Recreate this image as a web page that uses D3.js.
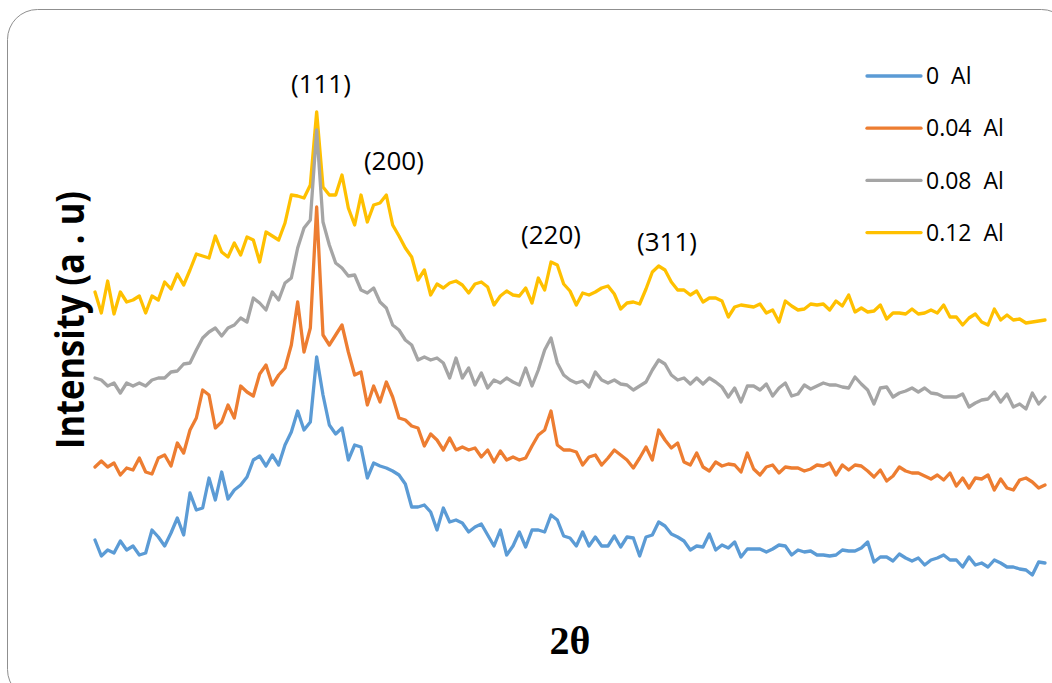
<!DOCTYPE html>
<html>
<head>
<meta charset="utf-8">
<script src="https://cdn.jsdelivr.net/npm/d3@7"></script>
<style>
  html, body { margin: 0; padding: 0; background: #ffffff; }
  svg { display: block; }
</style>
</head>
<body>
<svg id="chart" width="1052" height="683"></svg>
<script>
// ---- scan parameters (2θ, degrees) ----
const scanStart = 20;
const scanStep = 0.4;

// ---- series names ----
const seriesNames = ["0  Al", "0.04  Al", "0.08  Al", "0.12  Al"];

// ---- intensity values (a.u.), one per scan step ----
const al000 = [60,44,50,47,59,50,54,45,47,70,
63,54,67,82,65,107,90,92,122,100,
128,101,110,115,123,140,144,134,145,135,
155,168,189,170,178,243,205,175,166,172,
140,155,153,122,137,134,132,129,125,116,
93,93,95,88,70,92,78,80,77,68,
73,76,65,54,70,45,54,68,53,70,
70,68,85,80,64,62,54,68,54,63,
54,54,64,53,63,62,44,63,65,78,
74,66,63,59,50,54,53,66,50,55,
52,58,43,51,51,51,48,51,55,54,
45,50,48,49,45,45,44,45,50,49,
49,52,58,38,43,43,39,46,42,39,
42,35,40,42,45,40,40,33,43,35,
37,33,40,37,33,33,31,30,25,38,
37];

const al004 = [133,139,133,137,125,132,130,142,128,126,
142,145,134,157,147,170,182,210,205,172,
178,195,182,214,208,204,226,235,215,225,
232,255,298,248,272,393,265,255,265,275,
248,225,228,195,214,198,218,203,182,180,
174,172,154,166,160,150,162,150,153,150,
152,143,150,138,149,140,143,140,142,154,
165,170,189,155,150,150,148,135,143,145,
135,142,150,145,140,132,142,153,140,170,
160,152,157,138,135,147,133,129,138,134,
136,135,128,147,131,125,133,135,127,133,
132,132,129,131,135,134,137,125,135,130,
135,134,129,123,130,119,124,133,129,127,
127,124,121,125,120,127,114,122,112,122,
121,125,110,121,112,110,120,122,118,112,
115];

const al008 = [222,220,214,217,207,217,214,217,214,220,
222,222,228,229,236,237,250,262,268,272,
264,272,275,282,278,302,297,290,308,300,
317,322,352,372,380,470,378,355,337,332,
324,325,310,307,312,298,292,275,270,260,
255,240,243,240,242,237,222,242,222,232,
215,227,212,220,217,222,218,215,232,214,
230,250,262,237,225,220,217,219,213,228,
220,217,220,216,215,210,214,218,230,240,
236,225,220,222,216,222,216,222,218,213,
203,212,198,214,214,210,216,204,212,217,
204,206,215,211,214,217,215,215,213,212,
223,216,210,196,212,213,203,207,209,212,
208,212,207,206,203,203,203,206,193,197,
200,201,208,198,206,193,196,191,207,196,
203];

const al012 = [308,287,319,286,308,298,300,304,287,304,
300,318,311,326,315,330,346,344,342,364,
348,343,357,345,363,360,338,368,364,360,
377,405,404,402,415,488,413,405,405,425,
392,375,405,378,395,397,405,375,364,352,
343,320,330,305,316,312,317,319,315,307,
316,318,313,295,304,309,305,304,312,297,
322,310,338,335,316,309,295,307,305,308,
312,314,306,291,297,298,296,311,328,334,
330,318,310,310,305,309,298,302,302,299,
283,293,295,294,293,296,287,290,278,299,
294,290,291,296,295,296,290,299,294,305,
288,292,288,289,295,281,287,287,286,291,
286,287,290,287,295,283,283,275,282,286,
278,275,291,280,285,280,281,277,278,279,
280];

// ---- peak annotations ----
const peakNames = ["(111)", "(200)", "(220)", "(311)"];
const peakAngles = [34.27, 38.88, 48.8, 56.13];
const peakLevels = [507, 430, 356, 349];

// ---- layout ----
const plot = { left: 95, right: 1045, top: 100, bottom: 600 };
const colors = ["#5B9BD5", "#ED7D31", "#A5A5A5", "#FFC000"];
const seriesValues = [al000, al004, al008, al012];

const svg = d3.select("#chart");

// frame
svg.append("rect")
  .attr("x", 7.5).attr("y", 9.5)
  .attr("width", 1064).attr("height", 690)
  .attr("rx", 30).attr("ry", 30)
  .attr("fill", "#ffffff")
  .attr("stroke", "#8f8f8f")
  .attr("stroke-width", 1);

const x = d3.scaleLinear().domain([20, 80]).range([plot.left, plot.right]);
const y = d3.scaleLinear().domain([0, 500]).range([plot.bottom, plot.top]);

const line = d3.line()
  .x((d, i) => x(scanStart + i * scanStep))
  .y(d => y(d))
  .curve(d3.curveLinear);

// draw top series first so lower ones sit on top (as in reference)
const drawOrder = [3, 2, 1, 0];
svg.append("g").selectAll("path")
  .data(drawOrder)
  .join("path")
  .attr("d", k => line(seriesValues[k]))
  .attr("fill", "none")
  .attr("stroke", k => colors[k])
  .attr("stroke-width", 3.3)
  .attr("stroke-linejoin", "round")
  .attr("stroke-linecap", "round");

// peak labels
svg.append("g").selectAll("text")
  .data(peakNames)
  .join("text")
  .attr("x", (d, i) => x(peakAngles[i]))
  .attr("y", (d, i) => y(peakLevels[i]))
  .attr("text-anchor", "middle")
  .attr("font-family", "'Open Sans', sans-serif")
  .attr("font-size", 26)
  .attr("fill", "#000")
  .text(d => d);

// legend
const legend = svg.append("g").attr("transform", "translate(867,76)");
const items = legend.selectAll("g")
  .data(seriesNames)
  .join("g")
  .attr("transform", (d, i) => `translate(0,${i * 52.2})`);
items.append("line")
  .attr("x1", 0).attr("x2", 54).attr("y1", 0).attr("y2", 0)
  .attr("stroke", (d, i) => colors[i])
  .attr("stroke-width", 3.3)
  .attr("stroke-linecap", "round");
items.append("text")
  .attr("x", 59).attr("y", 0).attr("dy", "0.36em")
  .attr("font-family", "'Open Sans', sans-serif")
  .attr("font-size", 23)
  .attr("fill", "#000")
  .attr("xml:space", "preserve")
  .style("white-space", "pre")
  .text(d => d);

// y-axis title
svg.append("text")
  .attr("transform", "translate(84,320) rotate(-90)")
  .attr("text-anchor", "middle")
  .attr("font-family", "'Open Sans', sans-serif")
  .attr("font-weight", "bold")
  .attr("font-size", 40)
  .attr("textLength", 258)
  .attr("lengthAdjust", "spacingAndGlyphs")
  .attr("fill", "#000")
  .text("Intensity (a . u)");

// x-axis title
svg.append("text")
  .attr("x", 570).attr("y", 654)
  .attr("text-anchor", "middle")
  .attr("font-family", "'Liberation Serif', 'Times New Roman', serif")
  .attr("font-weight", "bold")
  .attr("font-size", 40)
  .attr("fill", "#000")
  .text("2θ");
</script>
</body>
</html>
